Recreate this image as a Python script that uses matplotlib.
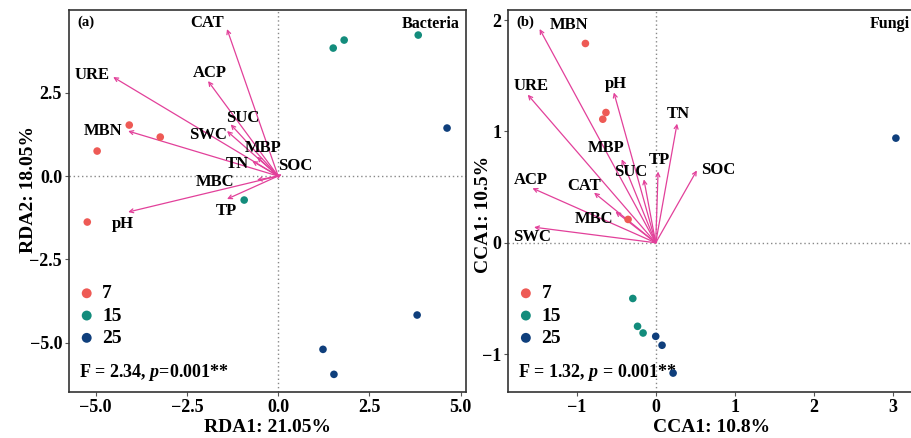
import matplotlib
matplotlib.use("Agg")
import matplotlib.pyplot as plt

plt.rcParams['font.family'] = ['Liberation Serif', 'DejaVu Serif']
plt.rcParams['font.weight'] = 'bold'
plt.rcParams['mathtext.fontset'] = 'custom'
plt.rcParams['mathtext.it'] = 'Liberation Serif:italic:bold'
plt.rcParams['mathtext.rm'] = 'Liberation Serif:bold'

groups = ['7', '15', '25']
group_colors = ['#EE5A55', '#138C7C', '#0F3F7C']
arrow_color = '#E2409A'

# (a) Bacteria - RDA sample scores
bac_x = {'7': [-4.08, -3.23, -4.96, -5.23],
         '15': [1.51, 1.81, 3.84, -0.93],
         '25': [4.63, 3.81, 1.23, 1.53]}
bac_y = {'7': [1.53, 1.17, 0.75, -1.38],
         '15': [3.84, 4.08, 4.23, -0.72],
         '25': [1.44, -4.17, -5.20, -5.95]}

bac_vars = ['CAT', 'ACP', 'URE', 'SUC', 'SWC', 'MBN', 'MBP', 'TN', 'MBC', 'TP', 'pH', 'SOC']
bac_ax1 = [-1.40, -1.92, -4.52, -1.30, -1.40, -4.11, -0.58, -0.71, -0.58, -1.40, -4.11, 0.10]
bac_ax2 = [4.41, 2.85, 2.97, 1.55, 1.35, 1.35, 0.58, 0.45, -0.12, -0.69, -1.08, 0.05]
bac_lab_x = [-1.95, -1.86, -5.10, -0.96, -1.92, -4.79, -0.41, -1.12, -1.73, -1.42, -4.25, 0.47]
bac_lab_y = [4.59, 3.09, 3.03, 1.74, 1.23, 1.35, 0.84, 0.36, -0.18, -1.05, -1.44, 0.30]

# (b) Fungi - CCA sample scores
fun_x = {'7': [-0.89, -0.63, -0.67, -0.35],
         '15': [-0.29, -0.23, -0.16],
         '25': [0.00, 0.08, 0.22, 3.04]}
fun_y = {'7': [1.79, 1.17, 1.11, 0.21],
         '15': [-0.50, -0.75, -0.81],
         '25': [-0.84, -0.92, -1.17, 0.94]}

fun_vars = ['MBN', 'URE', 'pH', 'TN', 'MBP', 'SUC', 'TP', 'SOC', 'ACP', 'CAT', 'MBC', 'SWC']
fun_ax1 = [-1.47, -1.62, -0.53, 0.27, -0.43, -0.15, 0.03, 0.52, -1.56, -0.78, -0.51, -1.54]
fun_ax2 = [1.92, 1.33, 1.35, 1.07, 0.75, 0.57, 0.64, 0.65, 0.49, 0.45, 0.28, 0.14]
fun_lab_x = [-1.10, -1.58, -0.51, 0.29, -0.63, -0.32, 0.05, 0.79, -1.58, -0.91, -0.78, -1.57]
fun_lab_y = [1.96, 1.41, 1.43, 1.16, 0.85, 0.64, 0.74, 0.65, 0.56, 0.51, 0.21, 0.05]


def draw_panel(ax, xs, ys, names, ax1, ax2, lab_x, lab_y, tag, title, stat):
    ax.axhline(0, color='#888888', lw=1, ls=(0, (1, 2)), zorder=1)
    ax.axvline(0, color='#888888', lw=1, ls=(0, (1, 2)), zorder=1)
    for g, c in zip(groups, group_colors):
        ax.scatter(xs[g], ys[g], s=30, color=c, edgecolors='none', zorder=4, label=g)
    for n, a1, a2, lx, ly in zip(names, ax1, ax2, lab_x, lab_y):
        ax.annotate('', xy=(a1, a2), xytext=(0, 0),
                    arrowprops=dict(arrowstyle='->', color=arrow_color, lw=0.9,
                                    mutation_scale=7, shrinkA=0, shrinkB=0), zorder=3)
        ax.text(lx, ly, n, ha='center', va='center', fontsize=12, fontweight='bold', zorder=5)
    ax.text(0.02, 0.985, tag, transform=ax.transAxes, ha='left', va='top', fontsize=10.5, fontweight='bold')
    ax.text(0.985, 0.985, title, transform=ax.transAxes, ha='right', va='top', fontsize=11.5, fontweight='bold')
    ax.text(0.025, 0.052, stat, transform=ax.transAxes, ha='left', va='center', fontsize=13, fontweight='bold')
    leg = ax.legend(loc='lower left', bbox_to_anchor=(0.02, 0.118), frameon=False, fontsize=14,
                    handlelength=1.0, handletextpad=0.3, labelspacing=0.24,
                    borderpad=0, borderaxespad=0, markerscale=1.3)
    for t in leg.get_texts():
        t.set_fontweight('bold')
    for s in ax.spines.values():
        s.set_color('#333333')
        s.set_linewidth(1.2)
    ax.tick_params(direction='out', length=3, width=0.8, labelsize=13, color='#555555', pad=2)


fig = plt.figure(figsize=(9.12, 4.38), dpi=100)
axa = fig.add_axes([0.0757, 0.105, 0.4353, 0.872])
axb = fig.add_axes([0.557, 0.105, 0.447, 0.872])

draw_panel(axa, bac_x, bac_y, bac_vars, bac_ax1, bac_ax2, bac_lab_x, bac_lab_y,
           '(a)', 'Bacteria', r'F = 2.34, $p$=0.001**')
axa.set_xlim(-5.73, 5.15)
axa.set_ylim(-6.48, 4.98)
axa.set_xticks([-5.0, -2.5, 0.0, 2.5, 5.0])
axa.set_yticks([-5.0, -2.5, 0.0, 2.5])
axa.set_xticklabels(['\u22125.0', '\u22122.5', '0.0', '2.5', '5.0'], fontweight='bold')
axa.set_yticklabels(['\u22125.0', '\u22122.5', '0.0', '2.5'], fontweight='bold')
axa.set_xlabel('RDA1: 21.05%', fontsize=14, fontweight='bold', labelpad=2)
axa.set_ylabel('RDA2: 18.05%', fontsize=14, fontweight='bold')
axa.yaxis.set_label_coords(-0.08, 0.531)

draw_panel(axb, fun_x, fun_y, fun_vars, fun_ax1, fun_ax2, fun_lab_x, fun_lab_y,
           '(b)', 'Fungi', r'F = 1.32, $p$ = 0.001**')
axb.set_xlim(-1.87, 3.29)
axb.set_ylim(-1.34, 2.09)
axb.set_xticks([-1, 0, 1, 2, 3])
axb.set_yticks([-1, 0, 1, 2])
axb.set_xticklabels(['\u22121', '0', '1', '2', '3'], fontweight='bold')
axb.set_yticklabels(['\u22121', '0', '1', '2'], fontweight='bold')
axb.set_xlabel('CCA1: 10.8%', fontsize=14, fontweight='bold', labelpad=2)
axb.set_ylabel('CCA1: 10.5%', fontsize=14, fontweight='bold')
axb.yaxis.set_label_coords(-0.039, 0.466)

fig.savefig('out.png', dpi=100)
